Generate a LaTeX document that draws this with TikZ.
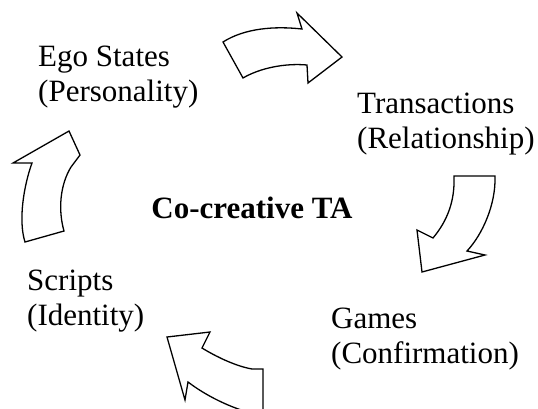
\documentclass[tikz,border=0pt]{standalone}
\usepackage{fontspec}
\setmainfont{Liberation Serif}

\begin{document}
\begin{tikzpicture}[x=1pt, y=-1pt,
    stage/.style={align=left, inner sep=0pt, anchor=base west, font=\fontsize{31}{35}\selectfont},
    hub/.style={inner sep=0pt, anchor=base, font=\fontsize{31}{35}\selectfont\bfseries},
    cycarrow/.style={draw, fill=white, line width=1.3pt, miter limit=10}]

    \useasboundingbox (0,0) rectangle (538,408);
    \clip (0,0) rectangle (538,408);

    % Nodes (anchor is the baseline of the last line)
    \node [stage] (ego) at (38,101) {Ego States\\(Personality)};
    \node [stage] (trans) at (357,148) {Transactions\\(Relationship)};
    \node [stage] (games) at (331,363) {Games\\(Confirmation)};
    \node [stage] (scripts) at (27,325) {Scripts\\(Identity)};
    \node [hub] (hub) at (252,218) {Co-creative TA};

    % Arrows
    \draw [cycarrow] (223,42) .. controls (245,28) and (275,26) .. (302,29)
        -- (297,13) -- (342,57) -- (308,83) -- (307,65)
        .. controls (285,63) and (260,68) .. (243,78) -- cycle;
    \draw [cycarrow] (454,176) -- (495,176) .. controls (496,205) and (482,235) .. (467,251)
        -- (485,255) -- (422,272) -- (417,230) -- (433,238)
        .. controls (448,220) and (455,200) .. (454,176) -- cycle;
    \draw [cycarrow] (263,369) -- (252,369) .. controls (235,366) and (215,356) .. (202,348)
        -- (210,332) -- (167,337) -- (185,400) -- (188,382)
        .. controls (205,395) and (230,408) .. (255,414) -- (263,414) -- cycle;
    \draw [cycarrow] (25,242) -- (64,231) .. controls (58,210) and (60,185) .. (71,167)
        -- (80,155) -- (69,131) -- (13,163) -- (32,163)
        .. controls (24,185) and (18,220) .. (25,242) -- cycle;

\end{tikzpicture}
\end{document}
